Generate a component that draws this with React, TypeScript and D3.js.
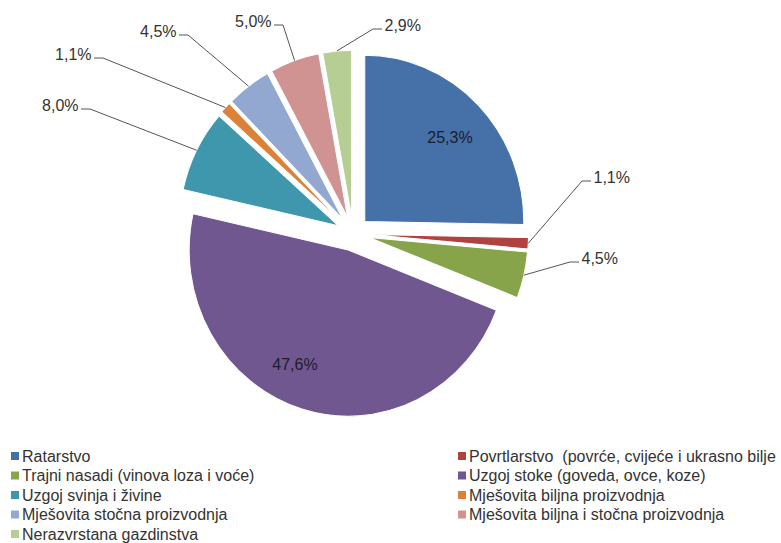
import React, { useEffect, useRef } from 'react';
import * as d3 from 'd3';

const categories = [
  'Ratarstvo',
  'Povrtlarstvo  (povrće, cvijeće i ukrasno bilje',
  'Trajni nasadi (vinova loza i voće)',
  'Uzgoj stoke (goveda, ovce, koze)',
  'Uzgoj svinja i živine',
  'Mješovita biljna proizvodnja',
  'Mješovita stočna proizvodnja',
  'Mješovita biljna i stočna proizvodnja',
  'Nerazvrstana gazdinstva',
];
const shares = [25.3, 1.1, 4.5, 47.6, 8.0, 1.1, 4.5, 5.0, 2.9];
const colors = ['#4570a8', '#b0423f', '#87a44b', '#71578f', '#3f97ae', '#db8238', '#92a8d0', '#d09392', '#b6cd93'];

// where each value label sits: inside ones are centred, outside ones hang on a leader elbow
const labelLayout: { inside: boolean; x: number; y: number; side?: number }[] = [
  { inside: true, x: 450, y: 137 },
  { inside: false, x: 582, y: 181, side: 1 },
  { inside: false, x: 570, y: 262, side: 1 },
  { inside: true, x: 295, y: 364 },
  { inside: false, x: 90, y: 109, side: -1 },
  { inside: false, x: 103, y: 58, side: -1 },
  { inside: false, x: 188, y: 35, side: -1 },
  { inside: false, x: 283, y: 25, side: -1 },
  { inside: false, x: 373, y: 29, side: 1 },
];

const width = 781;
const height = 543;
const font = '"Liberation Sans", Arial, sans-serif';

const App = () => {
  const ref = useRef<SVGSVGElement>(null);

  useEffect(() => {
    if (!ref.current) return;
    const svg = d3.select(ref.current);
    svg.selectAll('*').remove();

    const cx = 353;
    const cy = 233.5;
    const radius = 159;
    const sy = 1.045;
    const explode = 16.5;
    const fmt = (v: number) => d3.format('.1f')(v).replace('.', ',') + '%';

    const arcs = d3.pie<number>().sort(null).value(d => d)(shares);
    const arc = d3.arc<d3.PieArcDatum<number>>().innerRadius(0).outerRadius(radius);

    const mid = (d: d3.PieArcDatum<number>) => (d.startAngle + d.endAngle) / 2;
    const offset = (d: d3.PieArcDatum<number>) => [
      cx + Math.sin(mid(d)) * explode,
      cy - Math.cos(mid(d)) * explode * sy,
    ];

    svg.append('g')
      .selectAll('path')
      .data(arcs)
      .join('path')
      .attr('transform', d => {
        const [ox, oy] = offset(d);
        return `translate(${ox},${oy}) scale(1,${sy})`;
      })
      .attr('d', arc)
      .attr('fill', (_d, i) => colors[i])
      .attr('stroke', '#fff')
      .attr('stroke-width', 1);

    // leader lines + labels
    const labels = svg.append('g').attr('font-family', font).attr('font-size', 16);
    arcs.forEach((d, i) => {
      const l = labelLayout[i];
      if (l.inside) {
        labels.append('text')
          .attr('x', l.x)
          .attr('y', l.y + 5.5)
          .attr('text-anchor', 'middle')
          .attr('fill', '#1c1c2c')
          .text(fmt(shares[i]));
        return;
      }
      const [ox, oy] = offset(d);
      const sx = ox + Math.sin(mid(d)) * radius;
      const syy = oy - Math.cos(mid(d)) * radius * sy;
      const side = l.side ?? 1;
      const hx = l.x + side * 9;
      labels.append('path')
        .attr('d', d3.line()([[sx, syy], [l.x, l.y], [hx, l.y]]))
        .attr('fill', 'none')
        .attr('stroke', '#555')
        .attr('stroke-width', 1);
      labels.append('text')
        .attr('x', hx + side * 2.5)
        .attr('y', l.y + 1.5)
        .attr('text-anchor', side > 0 ? 'start' : 'end')
        .attr('fill', '#333')
        .text(fmt(shares[i]));
    });

    // legend, two columns, read row by row
    const rowY = (r: number) => 456 + r * 19.5;
    const colX = [11, 458];
    const legend = svg.append('g').attr('font-family', font).attr('font-size', 16);
    const items = legend.selectAll('g')
      .data(categories)
      .join('g')
      .attr('transform', (_d, i) => `translate(${colX[i % 2]},${rowY(Math.floor(i / 2))})`);
    items.append('rect')
      .attr('x', 0)
      .attr('y', -4)
      .attr('width', 8)
      .attr('height', 8)
      .attr('fill', (_d, i) => colors[i]);
    items.append('text')
      .attr('x', 11)
      .attr('y', 5.5)
      .attr('fill', '#333')
      .style('white-space', 'pre')
      .text(d => d);
  }, []);

  return (
    <svg
      ref={ref}
      width={width}
      height={height}
      style={{ position: 'absolute', left: 0, top: 0, background: '#fff' }}
    />
  );
};

export default App;
